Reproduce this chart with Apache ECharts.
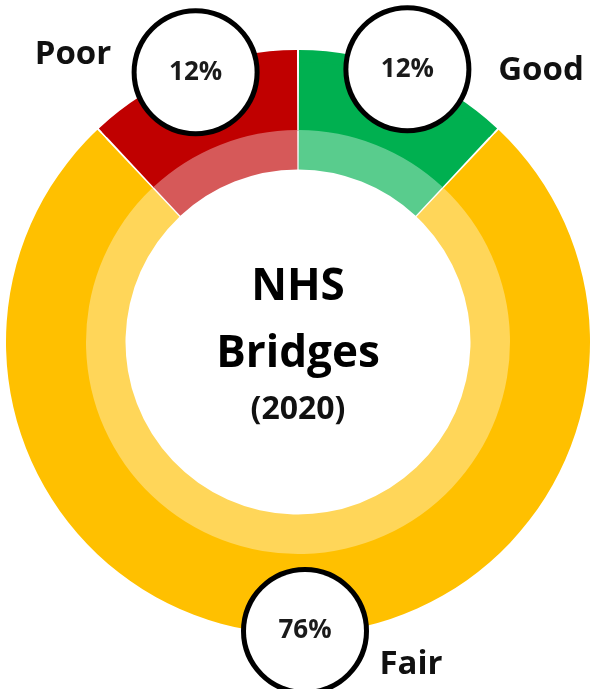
<!DOCTYPE html>
<html>
<head>
<meta charset="utf-8">
<title>NHS Bridges (2020)</title>
<script src="https://cdn.jsdelivr.net/npm/echarts@6/dist/echarts.min.js"></script>
<style>
  html, body { margin: 0; padding: 0; background: #ffffff; }
  #main { width: 590px; height: 689px; }
</style>
</head>
<body>
<div id="main"></div>
<script>
// Bridge condition shares (percent of NHS bridges), clockwise from 12 o'clock
var categories = ['Good', 'Fair', 'Poor'];
var shares = [12, 76, 12];

// Styling
var darkColors = ['#00B050', '#FFC000', '#C00000'];
var lightColors = ['#59CC8D', '#FFD659', '#D65959'];
var FONT = "'Open Sans', 'DejaVu Sans', sans-serif";
var CENTER = [298, 342];
// where each category name sits on the page
var namePos = { Good: [541, 71], Fair: [411, 665], Poor: [73, 55] };
// small nudges for the percentage badges
var badgeShift = { Good: [3, -4], Fair: [7, 0], Poor: [4, -1] };

function makeItems(colors) {
  return categories.map(function (c, i) {
    return { name: c, value: shares[i], itemStyle: { color: colors[i] } };
  });
}

var chart = echarts.init(document.getElementById('main'), null, { renderer: 'canvas' });

var common = {
  type: 'pie',
  center: CENTER,
  startAngle: 90,
  clockwise: true,
  padAngle: 0.4,
  silent: true,
  emphasis: { disabled: true },
  labelLine: { show: false }
};

chart.setOption({
  animation: false,
  backgroundColor: '#ffffff',
  series: [
    // outer, saturated band
    Object.assign({}, common, {
      name: 'outer',
      radius: [211, 287],
      label: { show: false },
      data: makeItems(darkColors)
    }),
    // inner, lighter band; carries the category names
    Object.assign({}, common, {
      name: 'inner',
      radius: [172.5, 212],
      label: {
        show: true,
        position: 'outside',
        formatter: '{b}',
        fontFamily: FONT,
        fontWeight: 'bold',
        fontSize: 33,
        color: '#111111'
      },
      labelLayout: function (p) {
        var pos = namePos[categories[p.dataIndex]];
        return { x: pos[0], y: pos[1], align: 'center', verticalAlign: 'middle' };
      },
      data: makeItems(lightColors)
    }),
    // percentage badges centred on the outer rim of each slice
    Object.assign({}, common, {
      name: 'badges',
      radius: [280, 292],
      itemStyle: { color: 'rgba(0,0,0,0)' },
      label: {
        show: true,
        position: 'inside',
        formatter: '{d}%',
        width: 118,
        height: 118,
        lineHeight: 118,
        borderRadius: 62,
        backgroundColor: '#ffffff',
        borderColor: '#000000',
        borderWidth: 5,
        fontFamily: FONT,
        fontWeight: 'bold',
        fontSize: 26,
        color: '#1a1a1a',
        align: 'center',
        verticalAlign: 'middle'
      },
      labelLayout: function (p) {
        var s = badgeShift[categories[p.dataIndex]];
        return { dx: s[0], dy: s[1] };
      },
      data: makeItems(darkColors)
    })
  ],
  graphic: [
    { type: 'text', x: 298, y: 287, style: { text: 'NHS', font: 'bold 44px ' + FONT, fill: '#000', align: 'center', verticalAlign: 'middle' } },
    { type: 'text', x: 298, y: 354, style: { text: 'Bridges', font: 'bold 44px ' + FONT, fill: '#000', align: 'center', verticalAlign: 'middle' } },
    { type: 'text', x: 298, y: 410, style: { text: '(2020)', font: 'bold 32px ' + FONT, fill: '#111', align: 'center', verticalAlign: 'middle' } }
  ]
});
</script>
</body>
</html>
